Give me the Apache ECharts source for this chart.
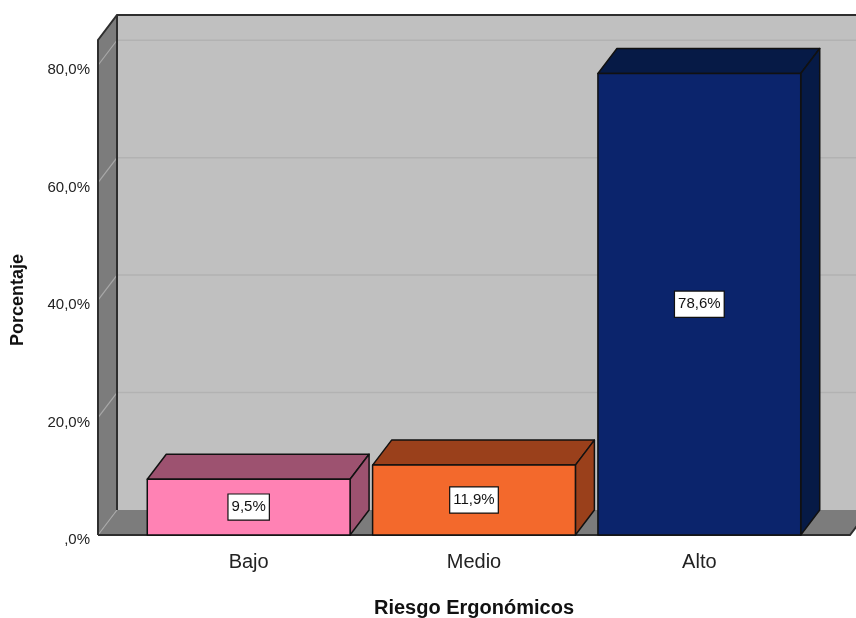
<!DOCTYPE html>
<html>
<head>
<meta charset="utf-8">
<script src="https://cdn.jsdelivr.net/npm/echarts@6/dist/echarts.min.js"></script>
<style>
  html, body { margin: 0; padding: 0; background: #fff; }
  #chart { width: 856px; height: 618px; }
</style>
</head>
<body>
<div id="chart"></div>
<script>
// Riesgo ergonómico: distribución porcentual por nivel
const categories = ['Bajo', 'Medio', 'Alto'];
const percentages = [9.5, 11.9, 78.6];
const yTicks = [0, 20, 40, 60, 80];

// palette: front face / shaded top+side face
const frontColors = ['#ff82b4', '#f3692c', '#0b246c'];
const shadeColors = ['#9d5270', '#9a401b', '#061a46'];

const DEPTH_X = 19;      // 3D depth offset to the right
const DEPTH_Y = 25;      // 3D depth offset upward
const WALL_PAD = 38;     // wall extends beyond the category bands
const BAR_RATIO = 0.9;   // bar width relative to band

const TEXT_FONT = "'Liberation Sans', Arial, sans-serif";

function fmtPct(v) {
  const s = v.toFixed(1).replace('.', ',');
  return (s.startsWith('0,') ? s.slice(1) : s) + '%';
}

function renderWalls(params, api) {
  const cs = params.coordSys;
  const L = cs.x - WALL_PAD, R = cs.x + cs.width + WALL_PAD;
  const T = cs.y, B = cs.y + cs.height;
  const dx = DEPTH_X, dy = DEPTH_Y;
  const children = [];
  // back wall
  children.push({ type: 'polygon', shape: { points: [[L + dx, T - dy], [R + dx, T - dy], [R + dx, B - dy], [L + dx, B - dy]] },
    style: { fill: '#c0c0c0' } });
  // left wall
  children.push({ type: 'polygon', shape: { points: [[L, T], [L + dx, T - dy], [L + dx, B - dy], [L, B]] },
    style: { fill: '#7c7c7c' } });
  // floor
  children.push({ type: 'polygon', shape: { points: [[L, B], [L + dx, B - dy], [R + dx, B - dy], [R, B]] },
    style: { fill: '#7c7c7c' } });
  // grid lines on back wall and left wall
  yTicks.forEach(function (t) {
    const y = api.coord([0, t])[1];
    if (t > 0) {
      children.push({ type: 'line', shape: { x1: L + dx, y1: y - dy, x2: R + dx, y2: y - dy },
        style: { stroke: '#b2b2b2', lineWidth: 1.5 } });
    }
    children.push({ type: 'line', shape: { x1: L, y1: y, x2: L + dx, y2: y - dy },
      style: { stroke: '#a8a8a8', lineWidth: 1.2 } });
  });
  // outlines
  const edge = { stroke: '#2e2e2e', lineWidth: 2, fill: null };
  children.push({ type: 'polyline', shape: { points: [[L, B], [L, T], [L + dx, T - dy], [R + dx, T - dy]] }, style: edge });
  children.push({ type: 'line', shape: { x1: L + dx, y1: T - dy, x2: L + dx, y2: B - dy }, style: edge });
  children.push({ type: 'polyline', shape: { points: [[L, B], [R, B], [R + dx, B - dy]] }, style: edge });
  return { type: 'group', children: children };
}

function renderBar(params, api) {
  const i = api.value(0);
  const v = api.value(1);
  const base = api.coord([i, 0]);
  const top = api.coord([i, v]);
  const w = api.size([1, 0])[0] * BAR_RATIO;
  const x0 = base[0] - w / 2, x1 = base[0] + w / 2;
  const yb = base[1], yt = top[1];
  const dx = DEPTH_X, dy = DEPTH_Y;
  const stroke = { stroke: '#111', lineWidth: 1.5, lineJoin: 'round' };
  return {
    type: 'group',
    children: [
      { type: 'polygon', shape: { points: [[x0, yt], [x0 + dx, yt - dy], [x1 + dx, yt - dy], [x1, yt]] },
        style: Object.assign({ fill: shadeColors[i] }, stroke) },
      { type: 'polygon', shape: { points: [[x1, yt], [x1 + dx, yt - dy], [x1 + dx, yb - dy], [x1, yb]] },
        style: Object.assign({ fill: shadeColors[i] }, stroke) },
      { type: 'rect', shape: { x: x0, y: yt, width: w, height: yb - yt },
        style: Object.assign({ fill: frontColors[i] }, stroke) },
      { type: 'text', x: base[0], y: (yt + yb) / 2,
        style: { text: fmtPct(v), font: '15px ' + TEXT_FONT, fill: '#111',
          align: 'center', verticalAlign: 'middle', lineHeight: 16,
          backgroundColor: '#fff', borderColor: '#111', borderWidth: 1.2, padding: [5, 3, 4, 3] } }
    ]
  };
}

const chart = echarts.init(document.getElementById('chart'), null, { renderer: 'canvas' });
chart.setOption({
  animation: false,
  backgroundColor: '#fff',
  grid: { left: 136, right: 44, top: 40, bottom: 83, containLabel: false, outerBoundsMode: 'none' },
  xAxis: {
    type: 'category',
    data: categories,
    axisLine: { show: false },
    axisTick: { show: false },
    axisLabel: { margin: 17, fontSize: 20, fontFamily: TEXT_FONT, color: '#222' },
    name: 'Riesgo Ergonómicos',
    nameLocation: 'middle',
    nameGap: 63,
    nameTextStyle: { fontSize: 20, fontWeight: 'bold', fontFamily: TEXT_FONT, color: '#111' }
  },
  yAxis: {
    type: 'value',
    min: 0,
    max: 84.3,
    interval: 20,
    axisLine: { show: false },
    axisTick: { show: false },
    splitLine: { show: false },
    axisLabel: {
      margin: 46,
      fontSize: 15,
      fontFamily: TEXT_FONT,
      color: '#222',
      verticalAlign: 'top',
      lineHeight: 10,
      formatter: function (v) { return yTicks.indexOf(v) >= 0 ? fmtPct(v) : ''; }
    }
  },
  graphic: [{
    type: 'text',
    x: 18, y: 300,
    rotation: Math.PI / 2,
    style: { text: 'Porcentaje', font: 'bold 18px ' + TEXT_FONT, fill: '#111',
      align: 'center', verticalAlign: 'middle' }
  }],
  series: [
    { type: 'custom', renderItem: renderWalls, data: [[0, 0]], silent: true, z: 1 },
    { type: 'custom', renderItem: renderBar, z: 2,
      data: percentages.map(function (p, i) { return [i, p]; }) }
  ]
});
</script>
</body>
</html>
